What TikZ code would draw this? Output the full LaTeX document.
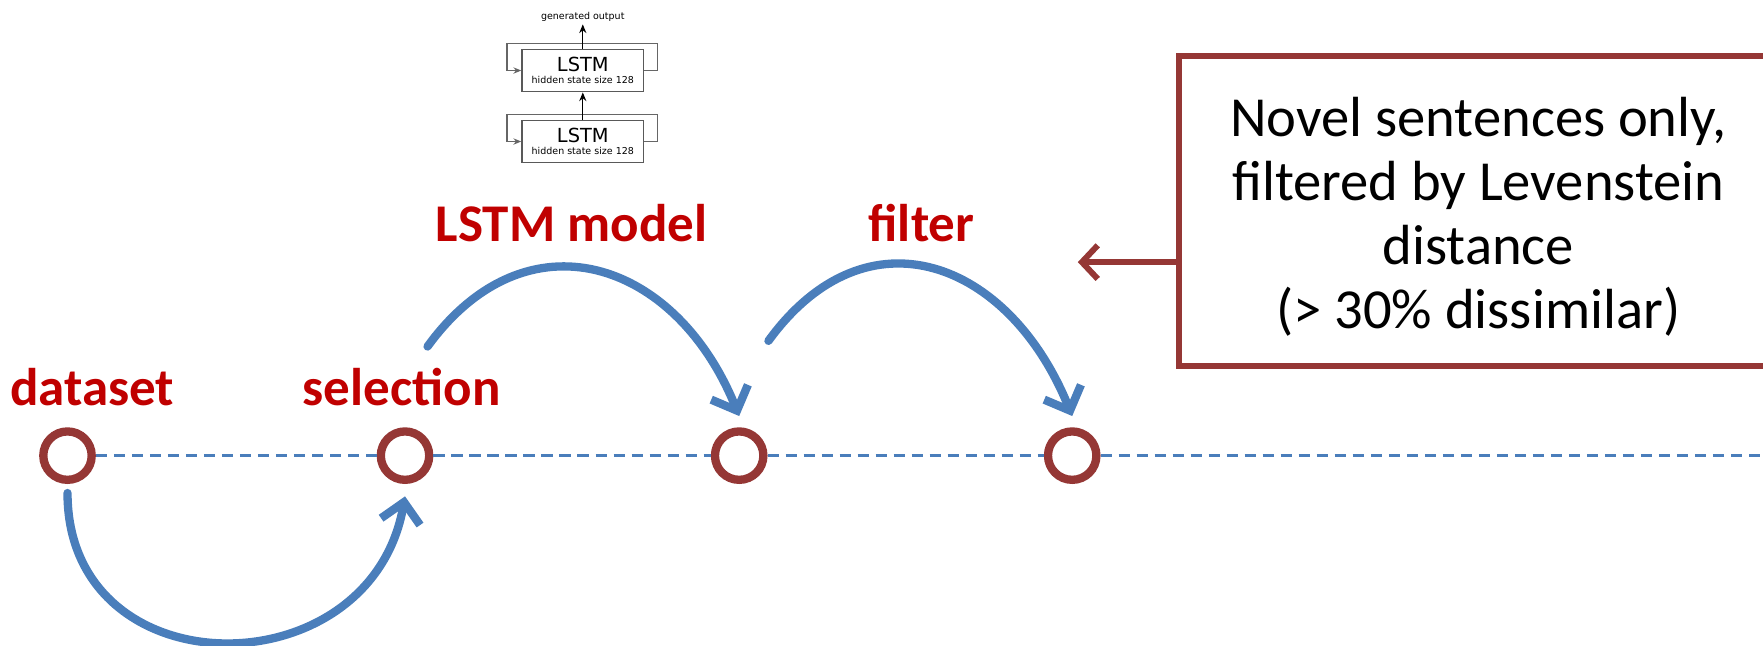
\documentclass[tikz,border=0pt]{standalone}
\usepackage{fontspec}
\setmainfont{Carlito}
\newfontfamily\netfont{DejaVu Sans}
\usetikzlibrary{arrows.meta,positioning}
\definecolor{stepred}{RGB}{149,55,53}
\definecolor{labelred}{RGB}{192,0,0}
\definecolor{arcblue}{RGB}{74,126,187}
\tikzset{
	stage/.style={circle,draw=stepred,line width=2.1pt,fill=white,minimum size=0.43cm,inner sep=0pt},
	timeline/.style={draw=arcblue,line width=0.85pt,dash pattern=on 0.1cm off 0.06cm},
	hop/.style={draw=arcblue,line width=2.1pt,line cap=round,-{Straight Barb[length=5pt,width=10pt]}},
	steplabel/.style={anchor=base,text=labelred,font=\fontsize{13.4}{16}\selectfont\bfseries},
	notebox/.style={draw=stepred,line width=1.5pt,minimum width=7.42cm,minimum height=2.75cm,inner sep=0pt},
	pointer/.style={draw=stepred,line width=1.5pt,-{Straight Barb[length=4pt,width=8.5pt]}},
	cell/.style={draw=black!65,line width=0.35pt,minimum width=1.08cm,minimum height=0.377cm,inner sep=0pt,align=center,font=\netfont\fontsize{2.4}{3.2}\selectfont},
	feedback/.style={draw=black!60,line width=0.35pt,-{Stealth[length=2pt,width=1.6pt]}},
	netarrow/.style={draw=black,line width=0.35pt,-{Stealth[length=2.2pt,width=1.8pt]}}
}
\begin{document}
\begin{tikzpicture}[x=0.01cm,y=0.01cm]
	\useasboundingbox (0,72) rectangle (1567,646);
	\clip (0,72) rectangle (1567,646);

	% time line
	\node [stage] (c1) at (60,241) {};
	\node [stage] (c2) at (360,241) {};
	\node [stage] (c3) at (657,241) {};
	\node [stage] (c4) at (953,241) {};
	\coordinate (lineend) at (1567,241);
	\draw [timeline] (c1) -- (c2) (c2) -- (c3) (c3) -- (c4) (c4) -- (lineend);

	\node [steplabel] (dataset) at (82,286) {dataset};
	\node [steplabel] (selection) at (357,286) {selection};
	\node [steplabel] (lstmlabel) at (508,431) {LSTM model};
	\node [steplabel] (filterlabel) at (819,431) {filter};

	% hops between steps
	\coordinate (lstmfrom) at ([shift={(20,97)}]c2.center);
	\coordinate (filterfrom) at ([shift={(26,102)}]c3.center);
	\draw [hop] ([shift={(0,-8)}]c1.south) to [out=-90,in=-100,looseness=1.5] ([shift={(0,-11)}]c2.south);
	\draw [hop] (lstmfrom) to [out=54,in=112,looseness=1.35] ([shift={(0,10)}]c3.north);
	\draw [hop] (filterfrom) to [out=54,in=112,looseness=1.37] ([shift={(0,10)}]c4.north);

	% note on the filter
	\node [notebox] (note) at (1419,458.5) {};
	\node [align=center,font=\fontsize{14.3}{16.2}\selectfont] (notetext) at (1314,453)
	{
		Novel sentences only,\\
		filtered by Levenstein\\
		distance\\
		(> 30\% dissimilar)
	};
	\coordinate (notetip) at (958,413);
	\draw [pointer] (notetip -| note.west) -- (notetip);

	% small network sketch
	\node [cell] (cell2) at (518,520.2)
	{
		{\fontsize{4.9}{3.2}\selectfont LSTM}\\
		hidden state size 128
	};
	\node [cell] (cell1) at (518,583.3)
	{
		{\fontsize{4.9}{3.2}\selectfont LSTM}\\
		hidden state size 128
	};
	\node [font=\netfont\fontsize{2.4}{2.8}\selectfont,inner sep=0.6pt] (genout) at (518,631.2) {generated output};
	\foreach \c in {cell1,cell2}
		\draw [feedback] (\c.east) -- ++(12,0) -- ++(0,24) -- ++(-134,0) -- ++(0,-24) -- (\c.west);
	\draw [netarrow] (cell2) -- (cell1);
	\draw [netarrow] (cell1) -- (genout);

\end{tikzpicture}
\end{document}
